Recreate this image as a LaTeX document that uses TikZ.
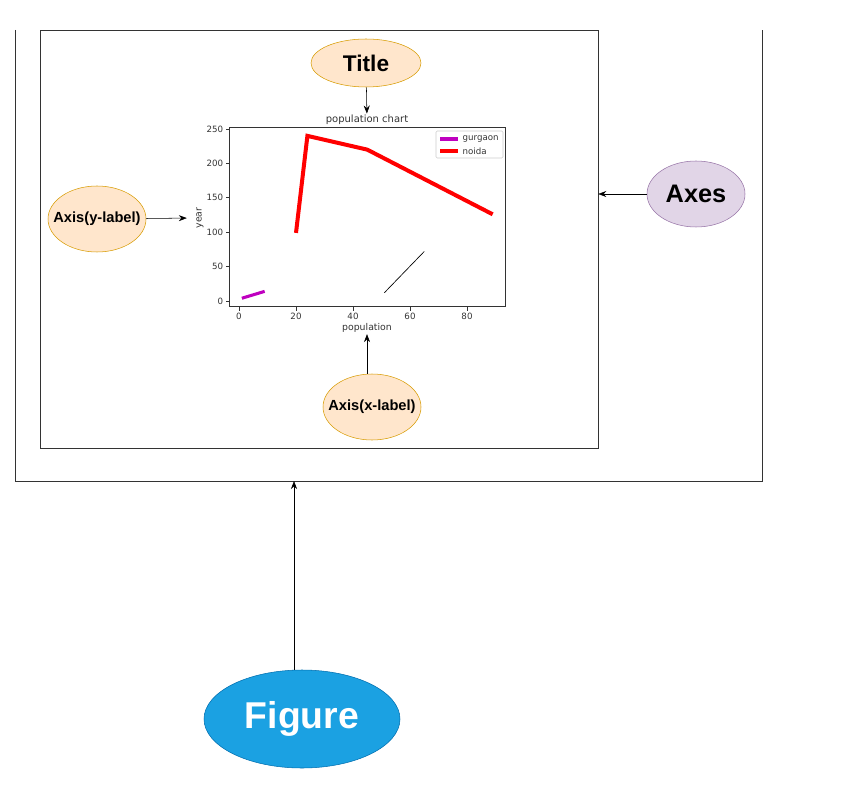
\documentclass[tikz,border=0pt]{standalone}
\usepackage{fontspec}
\setmainfont{Liberation Sans}
\newfontfamily\plotfont{DejaVu Sans}
\usetikzlibrary{arrows.meta,shapes.geometric,positioning,calc}
\definecolor{peachfill}{HTML}{FFE6CC}
\definecolor{peachdraw}{HTML}{D79B00}
\definecolor{lilacfill}{HTML}{E1D5E7}
\definecolor{lilacdraw}{HTML}{9673A6}
\definecolor{bluefill}{HTML}{1BA1E2}
\definecolor{bluedraw}{HTML}{006EAF}
\definecolor{framegray}{HTML}{333333}
\definecolor{gurgaoncol}{HTML}{BF00BF}

\begin{document}
\begin{tikzpicture}[x=0.75pt, y=-0.75pt,
		>={Stealth[length=6pt,width=4.5pt]},
		bubble/.style={ellipse, draw, inner sep=0pt, font=\bfseries},
		peach/.style={bubble, fill=peachfill, draw=peachdraw},
		ticklbl/.style={font=\plotfont\fontsize{6.5}{7.5}\selectfont, text=black!80, inner sep=1pt},
		plotlbl/.style={font=\plotfont\fontsize{7}{8}\selectfont, text=black!80, inner sep=1pt}]
		\useasboundingbox (0,0) rectangle (841,791);
		
		% outer frame (figure), open at the top
		\draw[framegray] (15,30) -- (15,481) -- (762,481) -- (762,30);
		\coordinate (figtop) at (294,481);
		
		% inner frame (axes)
		\node[rectangle, draw=framegray, minimum width=558*0.75pt, minimum height=418*0.75pt, inner sep=0pt] (axesbox) at (319,239) {};
		
		% ellipses
		\node[peach, minimum width=110*0.75pt, minimum height=48*0.75pt, font=\bfseries\fontsize{17}{19}\selectfont] (title) at (366,63) {Title};
		\node[peach, minimum width=98*0.75pt, minimum height=66*0.75pt, inner xsep=-9pt, font=\bfseries\fontsize{11}{13}\selectfont] (ylab) at (97,219) {Axis(y-label)};
		\node[peach, minimum width=98*0.75pt, minimum height=66*0.75pt, inner xsep=-9pt, font=\bfseries\fontsize{11}{13}\selectfont] (xlab) at (372,407) {Axis(x-label)};
		\node[bubble, fill=lilacfill, draw=lilacdraw, minimum width=98*0.75pt, minimum height=66*0.75pt, inner xsep=-4pt, font=\bfseries\fontsize{19}{22}\selectfont] (axes) at (696,194) {Axes};
		\node[bubble, fill=bluefill, draw=bluedraw, text=white, minimum width=196*0.75pt, minimum height=98*0.75pt, font=\bfseries\fontsize{28}{32}\selectfont] (fig) at (302,719) {Figure};
		
		% plot texts
		\node[plotlbl, font=\plotfont\fontsize{7.5}{9}\selectfont] (ptitle) at (367,120) {population chart};
		\node[plotlbl] (pxlab) at (367,328) {population};
		\node[plotlbl, rotate=90] (pylab) at (200,218) {year};
		
		% plot frame and data
		\begin{scope}[shift={(239,301)}, x=2.1375pt, y=0.516pt]
			\draw[black!80, line width=0.6pt] (-3.4,-7.8) rectangle (93.4,251.8);
			\foreach \v in {0,20,...,80} {
				\draw[black!80, line width=0.5pt] (\v,-7.8) -- ++(0,-7);
				\node[ticklbl] at (\v,-22) {\v};
			}
			\foreach \v in {0,50,...,250} {
				\draw[black!80, line width=0.5pt] (-3.4,\v) -- ++(-1.3,0);
				\node[ticklbl, anchor=east] at (-5,\v) {\v};
			}
			\draw[gurgaoncol, line width=2.3pt] (1,4) -- (9,14);
			\draw[red, line width=3pt, line join=miter] (20,99) -- (24,240) -- (45,220) -- (89,126);
			\draw[black, line width=0.5pt] (51,12) -- (65,72);
		\end{scope}
		
		% legend
		\node[draw=black!20, rounded corners=1pt, minimum width=67*0.75pt, minimum height=27*0.75pt, inner sep=0pt] (legend) at (469.5,144.5) {};
		\draw[gurgaoncol, line width=2.3pt] (440,139) -- (458,139);
		\draw[red, line width=3pt] (440,151) -- (458,151);
		\node[ticklbl, anchor=west] at (461,139) {gurgaon};
		\node[ticklbl, anchor=west] at (461,151) {noida};
		
		% connectors
		\draw[->] (title) -- (ptitle);
		\draw[->, shorten >=6pt] (ylab) -- (pylab.north);
		\draw[->] (xlab.north -| pxlab) -- (pxlab);
		\draw[->] (axes) -- (axes -| axesbox.east);
		\draw[->] (figtop |- fig.north) -- (figtop);
	\end{tikzpicture}
\end{document}
